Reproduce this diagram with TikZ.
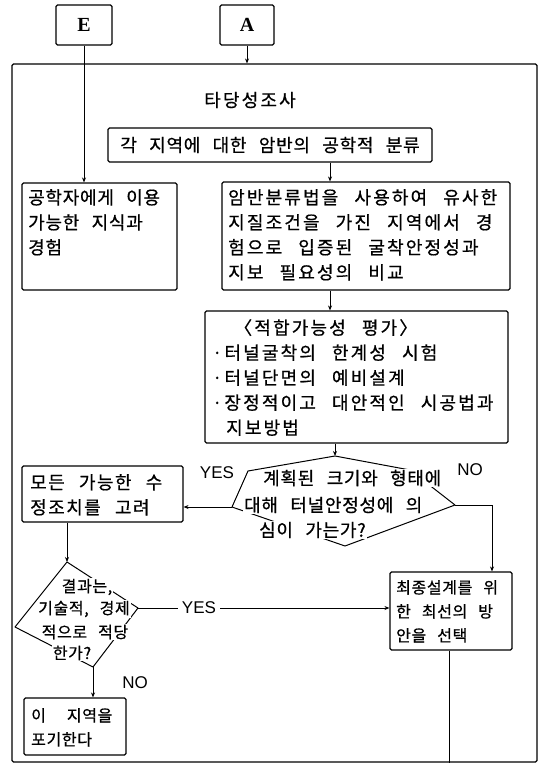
\documentclass[tikz,border=0pt]{standalone}
\usepackage{fontspec}
\newfontfamily\kr{Noto Sans CJK KR}[LetterSpace=4,WordSpace=2.6,FakeBold=0.7]
\newfontfamily\krw{Noto Sans CJK KR}[LetterSpace=12,WordSpace=2.6,FakeBold=0.7]
\newfontfamily\krm{Noto Sans CJK KR}[LetterSpace=8,WordSpace=2.6,FakeBold=0.7]
\newfontfamily\lat{Liberation Sans}
\newfontfamily\ser{Liberation Serif}
\usetikzlibrary{arrows.meta,fit,calc}
\tikzset{
  box/.style={draw, line width=1.1pt, rounded corners=1.5pt, inner sep=0pt},
  txt/.style={font=\kr\fontsize{18}{25}\selectfont, align=left, inner sep=0pt, anchor=north west},
  txtw/.style={font=\krw\fontsize{18}{25}\selectfont, align=left, inner sep=0pt, anchor=north west},
  txtm/.style={font=\krm\fontsize{18}{25}\selectfont, align=left, inner sep=0pt, anchor=north west},
  txts/.style={font=\kr\fontsize{16}{24}\selectfont, align=left, inner sep=0pt, anchor=north west},
  dtxt/.style={font=\kr\fontsize{18}{25}\selectfont, inner sep=1pt, fill=white, anchor=west},
  dtxts/.style={font=\kr\fontsize{16}{22}\selectfont, inner sep=1pt, fill=white},
  lbl/.style={font=\lat\fontsize{17}{20}\selectfont, inner sep=1pt},
  arr/.style={-{Stealth[length=5pt,width=4pt]}, line width=0.9pt},
  ln/.style={line width=0.9pt},
  dia/.style={line width=1pt, line join=round},
}
\begin{document}
\begin{tikzpicture}[x=1pt,y=-1pt]
\useasboundingbox (0,0) rectangle (547,768);
% top boxes
\node[box, fit={(56,5) (112,45)}] (E) {};
\node[font=\ser\bfseries\fontsize{20}{20}\selectfont] (Et) at (E) {E};
\node[box, fit={(220,5) (274,45)}] (A) {};
\node[font=\ser\bfseries\fontsize{20}{20}\selectfont] (At) at (A) {A};
% frame
\node[box, fit={(12,64) (537,762)}] (frame) {};
\node[font=\krw\fontsize{18}{25}\selectfont] (title) at (250,100) {타당성조사};
% boxes
\node[box, fit={(108,128) (432,162)}] (top) {};
\node[font=\kr\fontsize{18}{25}\selectfont] (topt) at (top) {각 지역에 대한 암반의 공학적 분류};
\node[box, fit={(22,183) (177,290)}] (lbox) {};
\node[txt] (lboxt) at (28,189) {공학자에게 이용\\가능한 지식과\\경험};
\node[box, fit={(222,182) (510,290)}] (rbox) {};
\node[txtw] (rboxt) at (228,189) {암반분류법을 사용하여 유사한\\지질조건을 가진 지역에서 경\\험으로 입증된 굴착안정성과\\지보 필요성의 비교};
\node[box, fit={(205,311) (508,443)}] (eval) {};
\node[txtw] (evalt) at (212,319) {\hspace{22pt}〈적합가능성 평가〉\\·터널굴착의 한계성 시험\\·터널단면의 예비설계\\·장정적이고 대안적인 시공법과\\\hspace{14pt}지보방법};
\node[box, fit={(22,466) (183,522)}] (mbox) {};
\node[txtm] (mboxt) at (30,474) {모든 가능한 수\\정조치를 고려};
\node[box, fit={(390,572) (512,650)}] (fbox) {};
\node[txts] (fboxt) at (396,580) {최종설계를 위\\한 최선의 방\\안을 선택};
\node[box, fit={(24,698) (126,755)}] (pbox) {};
\node[txts] (pboxt) at (31,708) {이\hspace{10pt} 지역을\\포기한다};
% diamond 1
\coordinate (d1t) at (335,456);
\coordinate (d1l) at (232,507);
\coordinate (d1b) at (345,546);
\coordinate (d1r) at (455,505);
\draw[dia] (d1t) -- (248,471) -- (d1l) -- (d1b) -- (d1r) -- (410,470) -- cycle;
\node[dtxt] (q1a) at (262,478) {계획된 크기와 형태에};
\node[dtxt] (q1b) at (243,505) {대해 터널안정성에 의};
\node[dtxt] (q1c) at (258,530) {심이 가는가?};
% diamond 2
\coordinate (d2t) at (67,562);
\coordinate (d2l) at (15,627);
\coordinate (d2b) at (93,667);
\coordinate (d2r) at (138,608);
\draw[dia] (d2t) -- (d2l) -- (d2b) -- (d2r) -- cycle;
\node[dtxts] (q2a) at (87,587) {결과는,};
\node[dtxts] (q2b) at (84,609) {기술적, 경제};
\node[dtxts] (q2c) at (85,632) {적으로 적당};
\node[dtxts] (q2d) at (72,653) {한가?};
% connectors
\draw[ln] (E.south) -- (E.south |- frame.north);
\draw[arr] (E.south |- frame.north) -- (E.south |- lbox.north);
\draw[arr] (A.south) -- (A.south |- frame.north);
\draw[arr] ([xshift=60pt]top.south) -- ([xshift=60pt]top.south |- rbox.north);
\draw[arr] ([xshift=-36pt]rbox.south) -- ([xshift=-36pt]rbox.south |- eval.north);
\draw[arr] (eval.south -| d1t) -- (d1t);
\draw[arr] (d1l) -- (d1l -| mbox.east);
\coordinate (c1) at (492,505);
\draw[arr] (d1r) -- (c1) -- (c1 |- fbox.north);
\coordinate (c2) at (449,700);
\draw[ln] (fbox.south -| c2) -- (c2 |- frame.south);
\draw[arr] (mbox.south -| d2t) -- (d2t);
\draw[arr] (d2r) -- (d2r -| fbox.west);
\draw[arr] (d2b) -- (d2b |- pbox.north);
% labels
\node[lbl] (yes1) at (217,473) {YES};
\node[lbl] (no1) at (470,470) {NO};
\node[lbl, fill=white, inner sep=4pt] (yes2) at (199,608) {YES};
\node[lbl] (no2) at (135,683) {NO};
\end{tikzpicture}
\end{document}
